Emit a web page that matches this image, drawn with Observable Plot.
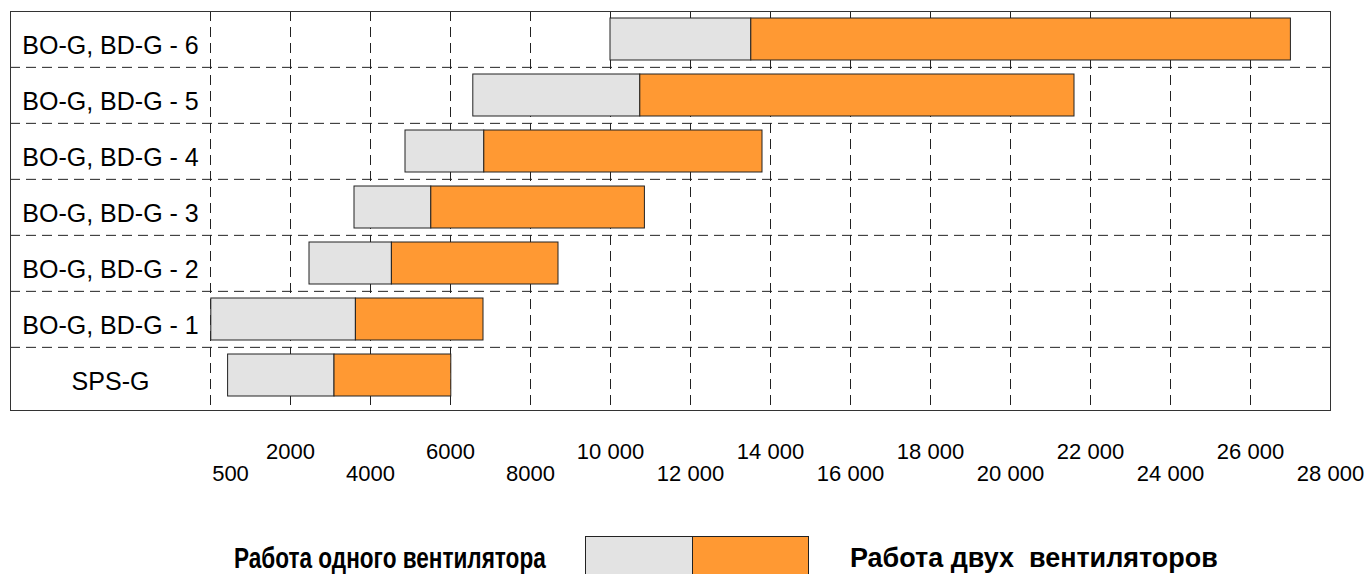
<!DOCTYPE html>
<html>
<head>
<meta charset="utf-8">
<script src="https://cdn.jsdelivr.net/npm/d3@7"></script>
<script src="https://cdn.jsdelivr.net/npm/@observablehq/plot@0.6"></script>
<style>
  body { margin: 0; background: #fff; font-family: Arial, "Liberation Sans", sans-serif; }
  svg { display: block; }
</style>
</head>
<body>
<div id="chart"></div>
<div id="legend"></div>
<script>
// ---- data ----
const categories = ["BO-G, BD-G - 6", "BO-G, BD-G - 5", "BO-G, BD-G - 4", "BO-G, BD-G - 3", "BO-G, BD-G - 2", "BO-G, BD-G - 1", "SPS-G"];
const oneFanStart = [10000, 6570, 4875, 3600, 2475, 20, 440];
const oneFanEnd   = [13520, 10745, 6845, 5520, 4535, 3635, 3100];
const twoFanEnd   = [27010, 21600, 13800, 10860, 8700, 6825, 6020];
const seriesNames = ["Работа одного вентилятора", "Работа двух  вентиляторов"];
const seriesColors = ["#e3e3e3", "#ff9933"];
const tickValues = [500, 2000, 4000, 6000, 8000, 10000, 12000, 14000, 16000, 18000, 20000, 22000, 24000, 26000, 28000];
const tickLabels = ["500", "2000", "4000", "6000", "8000", "10 000", "12 000", "14 000", "16 000", "18 000", "20 000", "22 000", "24 000", "26 000", "28 000"];
const gridValues = [0, 2000, 4000, 6000, 8000, 10000, 12000, 14000, 16000, 18000, 20000, 22000, 24000, 26000];

// ---- table built from arrays ----
const rows = [];
categories.forEach((c, i) => {
  rows.push({cat: c, series: seriesNames[0], x1: oneFanStart[i], x2: oneFanEnd[i]});
  rows.push({cat: c, series: seriesNames[1], x1: oneFanEnd[i], x2: twoFanEnd[i]});
});
const labelOf = new Map(tickValues.map((v, i) => [v, tickLabels[i]]));
const upperTicks = tickValues.filter((v, i) => i % 2 === 1);
const lowerTicks = tickValues.filter((v, i) => i % 2 === 0);

const W = 1370, H = 520;
const frameTop = 11, yTop = 10, yBottom = 404, frameBottom = 410;
const rowStep = (yBottom - yTop) / categories.length;
const font = "Arial, 'Liberation Sans', sans-serif";
const dash = "10,6";

const chart = Plot.plot({
  width: W,
  height: H,
  marginTop: frameTop,
  marginBottom: H - frameBottom,
  marginLeft: 10,
  marginRight: 40,
  style: {fontFamily: font, background: "#fff", color: "#000"},
  x: {domain: [-5000, 28000], axis: null, label: null},
  y: {domain: categories, range: [yTop, yBottom], padding: 0, axis: null, label: null},
  color: {domain: seriesNames, range: seriesColors},
  marks: [
    Plot.gridX(gridValues, {stroke: "#222", strokeOpacity: 1, strokeWidth: 1, strokeDasharray: dash}),
    Plot.gridY(categories.slice(1), {stroke: "#222", strokeOpacity: 1, strokeWidth: 1, strokeDasharray: dash, dy: -rowStep / 2}),
    Plot.barX(rows, {x1: "x1", x2: "x2", y: "cat", fill: "series", stroke: "#222", strokeWidth: 1, insetTop: 7, insetBottom: 7}),
    Plot.text(categories, {x: -2500, y: d => d, text: d => d, fontSize: 25, dy: 6, fill: "#000", fontFamily: font}),
    Plot.frame({stroke: "#333", strokeWidth: 1}),
    Plot.axisX(upperTicks, {tickSize: 0, tickPadding: 33, fontSize: 22, tickFormat: d => labelOf.get(d), fill: "#000", label: null, fontFamily: font}),
    Plot.axisX(lowerTicks, {tickSize: 0, tickPadding: 55, fontSize: 22, tickFormat: d => labelOf.get(d), fill: "#000", label: null, fontFamily: font})
  ]
});
document.getElementById("chart").appendChild(chart);

// ---- legend (below the plot) ----
const ns = "http://www.w3.org/2000/svg";
const leg = document.createElementNS(ns, "svg");
leg.setAttribute("width", W);
leg.setAttribute("height", 54);
document.getElementById("legend").appendChild(leg);
function addText(str, x, y, len, size) {
  const t = document.createElementNS(ns, "text");
  t.setAttribute("x", 0); t.setAttribute("y", 0);
  t.setAttribute("font-family", font);
  t.setAttribute("font-weight", "bold");
  t.setAttribute("font-size", size);
  t.setAttribute("fill", "#000");
  t.setAttribute("style", "white-space: pre");
  t.textContent = str;
  leg.appendChild(t);
  const natural = t.getComputedTextLength() || len;
  t.setAttribute("transform", `translate(${x},${y}) scale(${len / natural},1)`);
}
function addRect(x, w, fill) {
  const r = document.createElementNS(ns, "rect");
  r.setAttribute("x", x); r.setAttribute("y", 16.5);
  r.setAttribute("width", w); r.setAttribute("height", 60);
  r.setAttribute("fill", fill); r.setAttribute("stroke", "#222");
  leg.appendChild(r);
}
addText(seriesNames[0], 234, 48, 312, 29);
addRect(585.5, 107, seriesColors[0]);
addRect(692.5, 116, seriesColors[1]);
addText(seriesNames[1], 850, 47, 368, 28);
</script>
</body>
</html>
